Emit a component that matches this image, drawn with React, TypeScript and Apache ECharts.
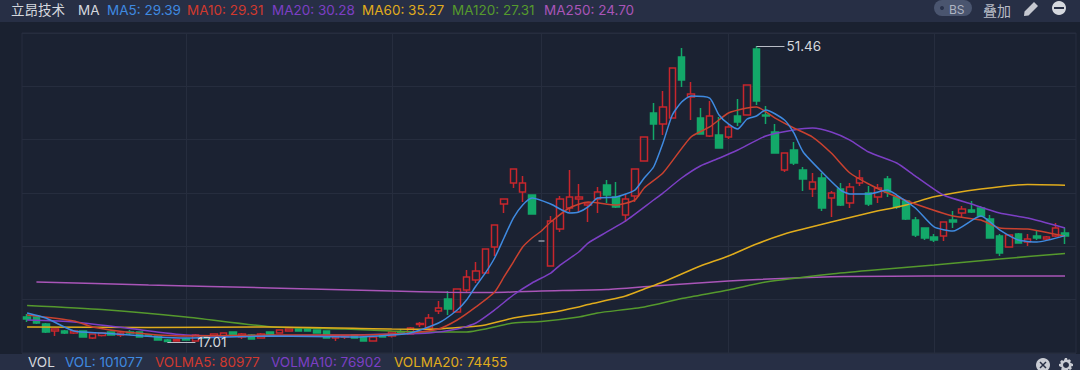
import React, { useEffect, useRef } from "react";
import * as echarts from "echarts";

const opens = [19.92,19.92,19.11,18.29,18.29,18.06,18.29,17.48,17.77,18.18,17.83,18.18,18.18,17.83,17.71,17.24,17.13,17.36,17.13,17.71,17.71,17.71,18.18,17.59,17.83,17.48,18.18,18.06,18.29,18.52,18.52,18.41,18.29,17.48,17.59,17.83,17.59,17.13,17.83,17.71,18.18,17.94,19.05,18.64,20.62,22.02,20.50,23.06,24.23,25.04,28.07,33.07,35.52,34.47,34.12,28.77,25.86,30.16,32.61,33.66,32.96,33.66,35.29,33.89,31.79,34.01,38.08,43.67,42.39,43.08,50.19,45.53,43.08,40.99,41.11,40.87,43.32,43.43,51.12,43.43,41.46,37.03,39.36,37.03,34.82,36.10,33.77,34.82,33.19,35.52,34.35,33.89,35.98,33.89,33.42,31.21,30.28,29.23,29.35,31.21,32.03,32.38,32.61,31.33,29.35,28.07,29.58,28.65,29.35,29.00,29.35,29.70];
const closes = [19.69,19.22,18.18,18.52,18.06,18.29,17.59,17.94,18.06,17.83,18.06,18.06,17.59,17.71,17.24,17.07,17.30,17.24,17.83,17.48,17.94,18.06,17.83,17.94,17.36,17.94,17.83,18.41,18.52,18.29,18.29,18.06,17.48,17.71,17.71,17.48,17.13,17.59,17.59,18.18,18.06,18.64,19.17,19.80,20.97,20.85,23.18,24.58,25.28,27.84,30.63,33.66,37.15,35.52,31.91,28.77,31.10,33.66,33.89,33.89,33.19,34.47,34.12,32.73,33.66,37.15,40.87,42.39,44.37,48.90,47.51,45.88,41.22,43.32,39.59,42.04,42.62,46.93,45.06,43.32,39.01,39.01,37.85,35.98,35.64,32.61,34.35,32.96,35.05,36.10,33.07,34.94,34.47,32.73,31.33,29.47,29.12,28.88,30.98,30.98,32.49,32.14,31.68,29.12,27.37,29.47,28.53,29.00,29.12,29.23,30.28,29.35];
const lows = [19.34,19.11,18.06,17.71,17.94,17.94,17.59,17.36,17.65,17.77,17.59,17.83,17.53,17.65,17.18,17.01,17.07,17.18,17.07,17.42,17.65,17.65,17.77,17.36,17.30,17.42,17.77,18.00,18.23,18.23,18.23,18.00,17.42,17.13,17.36,17.42,17.07,17.07,17.53,17.53,17.94,17.88,18.76,18.58,20.27,20.15,20.45,22.71,23.88,25.04,27.02,32.03,34.94,33.31,31.85,28.77,25.80,29.82,32.14,32.14,30.98,32.03,33.19,32.61,30.98,33.31,38.02,40.52,41.11,43.02,46.69,42.85,41.16,40.87,39.53,40.64,42.15,43.37,44.60,42.39,38.95,36.80,37.61,34.59,33.89,32.26,31.56,32.84,32.61,35.17,32.84,33.19,33.89,32.49,31.21,29.23,28.88,28.65,28.77,30.28,31.56,32.03,31.56,29.06,27.02,28.01,28.47,28.19,28.88,28.77,29.23,28.42];
const highs = [20.27,20.04,19.22,18.58,18.41,18.41,18.35,18.00,18.12,18.24,18.18,18.41,18.24,17.94,17.77,17.36,17.36,17.48,17.94,17.77,18.00,18.12,18.24,18.06,17.94,18.06,18.24,18.47,18.58,18.58,18.58,18.47,18.35,17.77,17.83,17.88,17.65,17.65,17.88,18.24,18.52,18.76,19.34,20.27,21.78,22.95,23.24,25.39,26.32,27.90,30.69,33.72,37.21,36.33,34.18,28.77,31.68,34.01,37.03,35.40,33.31,35.05,35.87,35.64,34.12,37.21,40.93,44.83,46.23,48.96,51.23,47.27,44.25,45.06,43.20,42.39,45.30,46.99,51.46,44.48,42.39,39.07,40.29,37.38,36.68,36.68,34.59,35.52,35.52,37.03,35.17,35.40,36.33,33.95,33.54,31.56,30.34,29.58,31.04,32.26,32.84,33.42,32.84,31.79,29.58,29.53,29.70,29.58,30.05,29.35,30.86,30.28];

// moving averages: [candle index, value]
const ma5 = [[0,20.39],[2,19.80],[5,18.29],[8,18.06],[14,17.59],[17,17.48],[26,17.71],[35,17.59],[39,17.83],[41,18.06],[44,19.22],[46,20.74],[47,21.90],[48,23.53],[49,25.02],[50,26.79],[51,29.12],[52,31.44],[53,32.96],[54,33.77],[56,33.07],[58,32.03],[59,32.14],[60,32.73],[61,33.77],[63,33.89],[65,34.70],[66,36.10],[67,37.38],[68,40.17],[69,43.43],[70,44.95],[71,45.65],[73,45.41],[74,43.43],[75,42.39],[76,41.80],[77,42.97],[78,43.32],[79,44.02],[81,42.85],[82,41.34],[83,39.13],[85,36.80],[87,34.70],[88,34.24],[90,34.24],[92,34.70],[93,34.12],[95,32.61],[97,30.40],[99,29.93],[102,31.68],[104,30.05],[106,28.88],[108,28.65],[111,29.39]];
const ma10 = [[0,20.15],[5,19.46],[7,18.76],[11,18.12],[17,17.71],[26,17.83],[35,17.83],[39,17.94],[42,18.18],[44,18.52],[46,19.57],[48,21.09],[50,22.83],[51,24.58],[52,26.32],[53,28.07],[54,29.12],[55,29.93],[56,30.98],[58,32.61],[60,33.31],[63,32.96],[65,33.54],[66,34.94],[68,36.68],[71,40.87],[73,42.04],[75,43.67],[77,44.25],[78,44.37],[80,43.08],[82,41.92],[84,40.87],[86,39.01],[88,36.68],[90,35.40],[92,34.35],[95,33.07],[99,31.68],[102,31.21],[104,30.28],[107,30.16],[111,29.31]];
const ma20 = [[0,19.57],[5,19.34],[11,18.58],[17,17.83],[26,17.71],[35,17.83],[39,17.94],[43,18.06],[46,18.52],[48,19.22],[50,20.74],[52,22.48],[54,23.88],[56,25.04],[57,25.97],[59,27.49],[60,28.53],[62,29.82],[64,31.10],[67,33.54],[68,34.35],[70,36.10],[72,37.50],[74,38.40],[76,39.36],[79,40.99],[82,41.69],[84,41.92],[86,41.46],[88,40.52],[90,39.13],[93,37.85],[95,36.33],[98,34.12],[101,33.07],[104,32.03],[107,31.44],[111,30.28]];
const ma60 = [[0,18.76],[13,18.70],[26,18.76],[39,18.52],[43,18.49],[47,18.76],[49,18.99],[52,19.80],[56,20.44],[59,21.09],[60,21.37],[64,22.36],[66,23.18],[68,24.00],[70,24.93],[72,25.86],[75,27.02],[78,28.42],[81,29.58],[83,30.16],[86,30.98],[90,32.03],[94,32.96],[97,33.92],[102,34.82],[107,35.34],[111,35.27]];
const ma120 = [[0,21.26],[8,20.79],[17,19.92],[26,18.79],[34,18.52],[39,18.29],[43,18.18],[47,18.18],[52,19.22],[55,19.40],[59,19.92],[61,20.39],[66,21.09],[70,22.07],[75,23.06],[79,23.99],[86,24.93],[90,25.33],[97,25.97],[104,26.67],[111,27.31]];
const ma250 = [[1,23.99],[13,23.65],[26,23.30],[39,22.95],[45,22.80],[50,22.78],[55,22.95],[62,23.12],[67,23.53],[75,24.11],[86,24.61],[97,24.69],[111,24.70]];

const monthStarts = [17, 39, 55, 75, 97];
const maxPoint = { index: 78, value: 51.46, labelIndex: 81 };
const minPoint = { index: 15, value: 17.01, labelIndex: 18 };

const topLegend = [
  { text: "立昂技术", x: 11, color: "#d5d8de" },
  { text: "MA", x: 78, color: "#d5d8de" },
  { text: "MA5: 29.39", x: 107, color: "#3f8ae0" },
  { text: "MA10: 29.31", x: 187, color: "#d0392e" },
  { text: "MA20: 30.28", x: 272, color: "#7c3fc4" },
  { text: "MA60: 35.27", x: 362, color: "#e0ac1c" },
  { text: "MA120: 27.31", x: 452, color: "#55992d" },
  { text: "MA250: 24.70", x: 544, color: "#a955b8" },
];
const bottomLegend = [
  { text: "VOL", x: 28, color: "#d5d8de" },
  { text: "VOL: 101077", x: 65, color: "#3f8ae0" },
  { text: "VOLMA5: 80977", x: 155, color: "#d0392e" },
  { text: "VOLMA10: 76902", x: 271, color: "#7c3fc4" },
  { text: "VOLMA20: 74455", x: 394, color: "#e0ac1c" },
];

const categories = opens.map((_, i) => String(i));
const candles = opens.map((o, i) => [o, closes[i], lows[i], highs[i]]);

const FONT = "Inter, 'Noto Sans CJK SC', sans-serif";
const PANEL = "#1b2232";
const BAR = "#272f45";
const GRIDLINE = "#262d3e";

echarts.graphic.registerShape(
  "pencilIcon",
  echarts.graphic.extendPath(
    "M10 0 L14 4 L4.5 13.5 L0 14 L0.5 9.5 Z M9.6 2.6 L11.4 4.4 L3.8 11.8 L2.2 12 L2.4 10.2 Z",
    {}
  )
);
echarts.graphic.registerShape(
  "gearIcon",
  echarts.graphic.extendPath(
    "M6 0 H8 L8.5 2 L10.4 1.2 L12 2.8 L11 4.6 L14 6 V8 L12 8.5 L12.8 10.4 L11.2 12 L9.4 11 L8 14 H6 L5.5 12 L3.6 12.8 L2 11.2 L3 9.4 L0 8 V6 L2 5.5 L1.2 3.6 L2.8 2 L4.6 3 Z",
    {}
  )
);

const legendText = (list: { text: string; x: number; color: string }[], y: number) =>
  list.map((item) => ({
    type: "text",
    x: item.x,
    y,
    style: { text: item.text, fill: item.color, font: `13.5px ${FONT}`, textVerticalAlign: "middle" },
  }));

const maSeries = (name: string, data: number[][], color: string) => ({
  name,
  type: "line",
  data,
  showSymbol: false,
  symbol: "none",
  smooth: 0.2,
  lineStyle: { color, width: 1.5 },
  silent: true,
  z: 5,
});

const pointLine = (p: { index: number; value: number; labelIndex: number }) => [
  {
    coord: [String(p.index), p.value],
    symbol: "none",
    lineStyle: { color: "#b8bcc6", width: 1, type: "solid" },
    label: {
      show: true,
      position: "end",
      formatter: String(p.value),
      color: "#d5d8de",
      fontSize: 13.5,
      fontFamily: FONT,
      distance: 2,
    },
  },
  { coord: [String(p.labelIndex), p.value], symbol: "none" },
];

export default function App() {
  const ref = useRef<HTMLDivElement>(null);
  useEffect(() => {
    document.body.style.margin = "0";
    const chart = echarts.init(ref.current!, undefined, { renderer: "svg" });
    chart.setOption({
      animation: false,
      backgroundColor: "#1a2130",
      grid: [
        { left: 22.4, right: 10.3, top: 33, bottom: 17 },
        { left: 22, right: 4, top: 33, bottom: 17, show: true, backgroundColor: PANEL, borderColor: GRIDLINE, borderWidth: 1 },
      ],
      xAxis: [
        {
          type: "category",
          data: categories,
          gridIndex: 0,
          axisLine: { show: false },
          axisTick: { show: false },
          axisLabel: { show: false },
          splitLine: {
            show: true,
            alignWithLabel: true,
            interval: (i: number) => monthStarts.includes(i),
            lineStyle: { color: GRIDLINE, width: 1 },
          },
        },
        {
          type: "value",
          gridIndex: 1,
          min: 0,
          max: 1,
          axisLine: { show: false },
          axisTick: { show: false },
          axisLabel: { show: false },
          splitLine: { show: false },
        },
      ],
      yAxis: [
        {
          type: "value",
          gridIndex: 0,
          min: 15.73,
          max: 52.98,
          axisLine: { show: false },
          axisTick: { show: false },
          axisLabel: { show: false },
          splitLine: { show: false },
        },
        {
          type: "value",
          gridIndex: 1,
          min: 0,
          max: 6,
          interval: 1,
          axisLine: { show: false },
          axisTick: { show: false },
          axisLabel: { show: false },
          splitLine: { show: true, lineStyle: { color: GRIDLINE, width: 1 } },
        },
      ],
      graphic: {
        elements: [
          { type: "rect", shape: { x: 0, y: 0, width: 1080, height: 22 }, style: { fill: BAR } },
          { type: "rect", shape: { x: 0, y: 354, width: 1080, height: 16 }, style: { fill: BAR } },
          ...legendText(topLegend, 10),
          ...legendText(bottomLegend, 362),
          { type: "rect", shape: { x: 934, y: 0, width: 38, height: 16, r: 8 }, style: { fill: "#4a556f" } },
          { type: "circle", shape: { cx: 942, cy: 8, r: 2 }, style: { fill: "#28314a" } },
          { type: "text", x: 949, y: 9, style: { text: "BS", fill: "#aeb4c2", font: `12px ${FONT}`, textVerticalAlign: "middle" } },
          { type: "text", x: 983, y: 10, style: { text: "叠加", fill: "#b8bcc6", font: `14px 'Noto Sans CJK SC', sans-serif`, textVerticalAlign: "middle" } },
          { type: "pencilIcon", x: 1024, y: 2, style: { fill: "#c5c8d0", fillRule: "evenodd" } },
          { type: "circle", shape: { cx: 1059, cy: 8, r: 7 }, style: { fill: "#d5d8de" } },
          { type: "rect", shape: { x: 1054, y: 7, width: 10, height: 2 }, style: { fill: BAR } },
          { type: "circle", shape: { cx: 1043, cy: 365, r: 7 }, style: { fill: "#c9ccd4" } },
          { type: "line", shape: { x1: 1040, y1: 362, x2: 1046, y2: 368 }, style: { stroke: BAR, lineWidth: 1.5 } },
          { type: "line", shape: { x1: 1046, y1: 362, x2: 1040, y2: 368 }, style: { stroke: BAR, lineWidth: 1.5 } },
          { type: "gearIcon", x: 1059, y: 358, style: { fill: "#c9ccd4" } },
          { type: "circle", shape: { cx: 1066, cy: 365, r: 3 }, style: { fill: BAR } },
        ],
      },
      series: [
        {
          name: "K",
          type: "candlestick",
          xAxisIndex: 0,
          yAxisIndex: 0,
          data: candles,
          barWidth: 7,
          silent: true,
          z: 3,
          itemStyle: {
            color: "transparent",
            color0: "#13a869",
            borderColor: "#c8262c",
            borderColor0: "#13a869",
            borderColorDoji: "#8f95a3",
            borderWidth: 1.5,
          },
          markLine: {
            silent: true,
            animation: false,
            z: 6,
            data: [pointLine(maxPoint), pointLine(minPoint)],
          },
        },
        maSeries("MA250", ma250, "#a955b8"),
        maSeries("MA120", ma120, "#55992d"),
        maSeries("MA60", ma60, "#e0ac1c"),
        maSeries("MA20", ma20, "#7c3fc4"),
        maSeries("MA10", ma10, "#c9412f"),
        maSeries("MA5", ma5, "#3f8ae0"),
      ],
    });
    return () => chart.dispose();
  }, []);
  return <div ref={ref} style={{ width: 1080, height: 370 }} />;
}
